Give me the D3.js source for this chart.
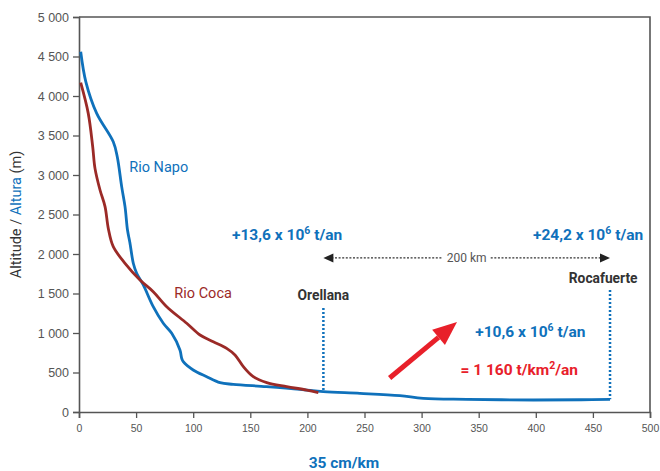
<!DOCTYPE html>
<html>
<head>
<meta charset="utf-8">
<script src="https://cdn.jsdelivr.net/npm/d3@7"></script>
<style>
  body { margin: 0; background: #fff; }
  svg { font-family: "Roboto", sans-serif; }
  .tick text { fill: #555; }
  .ann { font-weight: bold; }
</style>
</head>
<body>
<div id="chart"></div>
<script>
var svgWidth = 660;
var svgHeight = 471;

var margin = { top: 17, right: 10, bottom: 59, left: 79 };
var width = svgWidth - margin.left - margin.right;
var height = svgHeight - margin.top - margin.bottom;

// Data (distance km, altitude m)
var napoDist = [1.5, 6, 15.5, 30, 33.5, 37.4, 40.3, 42.5, 44.5, 47.6, 50.5, 56.3, 65, 73.8, 81.2, 88.4, 89.9, 91.3, 100, 111.8, 123.5, 135, 164, 193.5, 214, 246, 281, 301.5, 339.5, 398, 440, 465];
var napoAlt = [4560, 4180, 3780, 3420, 3230, 2850, 2600, 2300, 2150, 1880, 1756, 1608, 1333, 1123, 996, 785, 680, 637, 532, 447, 371, 350, 321, 287, 257, 236, 207, 173, 161, 152, 155, 161];

var cocaDist = [1.5, 8.1, 12, 14, 18.4, 22.8, 25.7, 30, 40.3, 53.4, 65, 76.8, 94.3, 106, 117.6, 129.3, 136.6, 143.9, 152.6, 164.4, 181.9, 199.4, 209.6];
var cocaAlt = [4168, 3780, 3358, 3084, 2810, 2600, 2320, 2093, 1882, 1671, 1523, 1333, 1123, 975, 890, 806, 722, 574, 447, 371, 321, 278, 245];

var xTicks = [0, 50, 100, 150, 200, 250, 300, 350, 400, 450, 500];
var yTicks = [0, 500, 1000, 1500, 2000, 2500, 3000, 3500, 4000, 4500, 5000];

// Stations
var stationNames = ["Orellana", "Rocafuerte"];
var stationDist = [214, 465];

var blue = "#0f71bb";
var red = "#9b2a27";
var brightRed = "#e8202a";
var grey = "#555";

var napo = napoDist.map((d, i) => ({ x: d, y: napoAlt[i] }));
var coca = cocaDist.map((d, i) => ({ x: d, y: cocaAlt[i] }));

var svg = d3.select("#chart")
  .append("svg")
  .attr("width", svgWidth)
  .attr("height", svgHeight);

var chartGroup = svg.append("g")
  .attr("transform", `translate(${margin.left}, ${margin.top})`);

var xScale = d3.scaleLinear().domain([0, 500]).range([0, width]);
var yScale = d3.scaleLinear().domain([0, 5000]).range([height, 0]);

var fmt = d3.formatLocale({ decimal: ",", thousands: " ", grouping: [3], currency: ["", ""] }).format(",d");

// frame (top & right)
chartGroup.append("path")
  .attr("d", `M0,0H${width}V${height}`)
  .attr("fill", "none")
  .attr("stroke", "#555")
  .attr("stroke-width", 1.6);

var bottomAxis = d3.axisBottom(xScale).tickValues(xTicks).tickSize(6).tickPadding(7);
var leftAxis = d3.axisLeft(yScale).tickValues(yTicks).tickFormat(fmt).tickSize(6).tickPadding(4);

var gx = chartGroup.append("g")
  .attr("transform", `translate(0, ${height})`)
  .call(bottomAxis);
gx.selectAll("text").attr("font-size", 10.5);

var gy = chartGroup.append("g").call(leftAxis);
gy.selectAll("text").attr("font-size", 12.5);

[gx, gy].forEach(g => {
  g.select(".domain").attr("stroke", "#555").attr("stroke-width", 1.6);
  g.selectAll(".tick line").attr("stroke", "#555").attr("stroke-width", 1.3);
});

// axis titles
var yTitle = svg.append("text")
  .attr("transform", `translate(21, ${margin.top + yScale(2500)}) rotate(-90)`)
  .attr("text-anchor", "middle")
  .attr("font-size", 14.5)
  .attr("fill", "#333");
yTitle.append("tspan").text("Altitude / ");
yTitle.append("tspan").attr("fill", blue).text("Altura");
yTitle.append("tspan").text(" (m)");

svg.append("text")
  .attr("x", margin.left + xScale(232))
  .attr("y", 468)
  .attr("text-anchor", "middle")
  .attr("class", "ann")
  .attr("font-size", 15.5)
  .attr("fill", blue)
  .text("35 cm/km");

// profiles
var line = d3.line()
  .x(d => xScale(d.x))
  .y(d => yScale(d.y))
  .curve(d3.curveCatmullRom.alpha(0.5));

chartGroup.append("path")
  .datum(napo)
  .attr("d", line)
  .attr("fill", "none")
  .attr("stroke", blue)
  .attr("stroke-width", 2.8)
  .attr("stroke-linejoin", "round");

chartGroup.append("path")
  .datum(coca)
  .attr("d", line)
  .attr("fill", "none")
  .attr("stroke", red)
  .attr("stroke-width", 2.8)
  .attr("stroke-linejoin", "round");

// river labels
chartGroup.append("text")
  .attr("x", xScale(44)).attr("y", yScale(3040))
  .attr("font-size", 14.5)
  .attr("fill", blue).text("Rio Napo");

chartGroup.append("text")
  .attr("x", xScale(83.5)).attr("y", yScale(1438))
  .attr("font-size", 14.5)
  .attr("fill", red).text("Rio Coca");

// station dotted lines + names
var stationTop = [1316, 1544];
var stationLabelY = [1418, 1633];
var stationLabelX = [214, 459];
stationDist.forEach((d, i) => {
  var base = napo.find(p => p.x >= d);
  chartGroup.append("line")
    .attr("x1", xScale(d)).attr("x2", xScale(d))
    .attr("y1", yScale(stationTop[i])).attr("y2", yScale(base.y))
    .attr("stroke", blue)
    .attr("stroke-width", 2.5)
    .attr("stroke-dasharray", "2,2");
  chartGroup.append("text")
    .attr("x", xScale(stationLabelX[i])).attr("y", yScale(stationLabelY[i]))
    .attr("text-anchor", "middle")
    .attr("class", "ann")
    .attr("font-size", 13.8)
    .attr("fill", "#333")
    .text(stationNames[i]);
});

// 200 km distance arrow
var arrowY = yScale(1950);
var midX = (xScale(stationDist[0]) + xScale(stationDist[1])) / 2;
chartGroup.append("line")
  .attr("x1", xScale(stationDist[0]) + 8).attr("x2", midX - 24)
  .attr("y1", arrowY).attr("y2", arrowY)
  .attr("stroke", "#333").attr("stroke-width", 1.2).attr("stroke-dasharray", "2,1.6");
chartGroup.append("line")
  .attr("x1", midX + 24).attr("x2", xScale(stationDist[1]) - 8)
  .attr("y1", arrowY).attr("y2", arrowY)
  .attr("stroke", "#333").attr("stroke-width", 1.2).attr("stroke-dasharray", "2,1.6");
[[stationDist[0], 1], [stationDist[1], -1]].forEach(a => {
  var tx = xScale(a[0]);
  chartGroup.append("path")
    .attr("d", `M${tx},${arrowY}L${tx + a[1] * 10},${arrowY - 4.5}L${tx + a[1] * 10},${arrowY + 4.5}Z`)
    .attr("fill", "#222");
});
chartGroup.append("text")
  .attr("x", midX).attr("y", arrowY + 4.5)
  .attr("text-anchor", "middle")
  .attr("font-size", 12)
  .attr("fill", grey).text("200 km");

// flux annotations
function fluxText(x, y, anchor, prefix, color) {
  var t = chartGroup.append("text")
    .attr("x", xScale(x)).attr("y", yScale(y))
    .attr("text-anchor", anchor)
    .attr("class", "ann")
    .attr("font-size", 15.5)
    .attr("fill", color);
  t.append("tspan").text(prefix + " x 10");
  t.append("tspan").attr("dy", -6).attr("font-size", 10.5).text("6");
  t.append("tspan").attr("dy", 6).text(" t/an");
  return t;
}
fluxText(134, 2177, "start", "+13,6", blue);
fluxText(494, 2177, "end", "+24,2", blue);
fluxText(347, 949, "start", "+10,6", blue);

var sp = chartGroup.append("text")
  .attr("x", xScale(334)).attr("y", yScale(468))
  .attr("class", "ann")
  .attr("font-size", 15.5)
  .attr("fill", brightRed);
sp.append("tspan").text("= 1 160 t/km");
sp.append("tspan").attr("dy", -6).attr("font-size", 10.5).text("2");
sp.append("tspan").attr("dy", 6).text("/an");

// red arrow
var ax0 = xScale(272), ay0 = yScale(430), ax1 = xScale(331), ay1 = yScale(1139);
var ang = Math.atan2(ay1 - ay0, ax1 - ax0);
var headLen = 24, headW = 10;
var bx = ax1 - headLen * Math.cos(ang), by = ay1 - headLen * Math.sin(ang);
chartGroup.append("line")
  .attr("x1", ax0).attr("y1", ay0).attr("x2", bx).attr("y2", by)
  .attr("stroke", brightRed).attr("stroke-width", 5);
chartGroup.append("path")
  .attr("d", `M${ax1},${ay1}L${bx + headW * Math.sin(ang)},${by - headW * Math.cos(ang)}L${bx - headW * Math.sin(ang)},${by + headW * Math.cos(ang)}Z`)
  .attr("fill", brightRed);
</script>
</body>
</html>
